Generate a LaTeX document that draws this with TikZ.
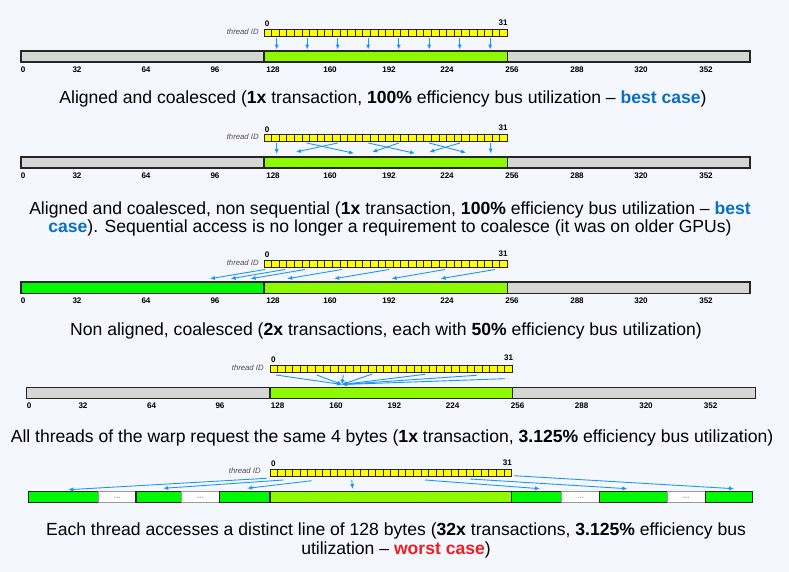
\documentclass[tikz,border=0pt]{standalone}
\usepackage{fontspec}
\setmainfont{Liberation Sans}
\usepackage{xcolor}
\usepackage{tikz}
\usetikzlibrary{arrows.meta}
\definecolor{MemGray}{HTML}{D6D6D6}
\definecolor{MemLime}{HTML}{8EFA00}
\definecolor{MemGreen}{HTML}{00F900}
\definecolor{ThreadYellow}{HTML}{FFFF00}
\definecolor{AccessBlue}{HTML}{1A95F2}
\definecolor{BestBlue}{HTML}{0A6FC2}
\definecolor{WorstRed}{HTML}{EE1C25}
\definecolor{PageBack}{HTML}{F4F7FE}

\begin{document}
\begin{tikzpicture}[x=0.02cm,y=-0.02cm,
  seg/.style={draw=black!85,line width=0.6pt},
  gapseg/.style={draw=black!40,line width=0.6pt,fill=white},
  cell/.style={draw=black!85,line width=0.55pt,fill=ThreadYellow},
  access/.style={AccessBlue,line width=0.5pt,-{Latex[length=2.8pt,width=2.4pt]}},
  tick/.style={font=\fontsize{4.6}{5}\selectfont\bfseries,inner sep=0pt},
  tid/.style={font=\fontsize{4.4}{5}\selectfont\itshape,text=black!70,anchor=east,inner sep=0pt},
  caption/.style={font=\fontsize{10}{10.6}\selectfont,align=center,inner sep=0pt}]
\path[use as bounding box] (0,0) rectangle (789,572);
\fill[PageBack] (0,0) rectangle (789,572);

% aligned and coalesced
\draw[seg,fill=MemGray] (21,51) rectangle (264,62);
\draw[seg,fill=MemLime] (264,51) rectangle (507.5,62);
\draw[seg,fill=MemGray] (507.5,51) rectangle (750,62);
\foreach \v/\x in {0/23,32/77,64/146,96/215,128/273,160/330,192/389,224/447,256/512,288/577,320/641,352/706}
  \node[tick] at (\x,70) {\v};
\foreach \i in {0,...,31}
  \draw[cell] ({264+7.61*\i},29.3) rectangle ++(7.61,7);
\node[tick] at (267,24) {0};
\node[tick] at (503,22.7) {31};
\node[tid] at (259,31.7) {thread ID};
\foreach \x in {276.7,307.2,337.7,368.2,398.7,429.2,459.7,490.2}
  \draw[access] (\x,37.5) -- (\x,49.5);
\node[caption] (capA) at (383,99) {Aligned and coalesced (\textbf{1x} transaction, \textbf{100\%} efficiency bus utilization – \textcolor{BestBlue}{\textbf{best case}})};

% aligned, non sequential
\draw[seg,fill=MemGray] (21,157) rectangle (264,168);
\draw[seg,fill=MemLime] (264,157) rectangle (507.5,168);
\draw[seg,fill=MemGray] (507.5,157) rectangle (750,168);
\foreach \v/\x in {0/23,32/77,64/146,96/215,128/273,160/330,192/389,224/447,256/512,288/577,320/641,352/706}
  \node[tick] at (\x,175.5) {\v};
\foreach \i in {0,...,31}
  \draw[cell] ({264+7.61*\i},134.7) rectangle ++(7.61,6.8);
\node[tick] at (267,129.3) {0};
\node[tick] at (503,127.7) {31};
\node[tid] at (259,136.7) {thread ID};
\draw[access] (276.7,142.5) -- (276.7,154);
\draw[access] (306.7,143) -- (354,153.3);
\draw[access] (337.7,143) -- (296,152);
\draw[access] (368.3,143) -- (415,153.3);
\draw[access] (399,143) -- (372.3,152);
\draw[access] (429.3,143) -- (466,152.7);
\draw[access] (460,143) -- (429.3,152);
\draw[access] (490.7,143) -- (490.7,153.5);
\node[caption] (capB) at (390,219) {Aligned and coalesced, non sequential (\textbf{1x} transaction, \textbf{100\%} efficiency bus utilization – \textcolor{BestBlue}{\textbf{best}}\\
\textcolor{BestBlue}{\textbf{case}}). Sequential access is no longer a requirement to coalesce (it was on older GPUs)};

% non aligned
\draw[seg,fill=MemGreen] (21,282) rectangle (264,293.3);
\draw[seg,fill=MemLime] (264,282) rectangle (507.5,293.3);
\draw[seg,fill=MemGray] (507.5,282) rectangle (750,293.3);
\foreach \v/\x in {0/23,32/77,64/146,96/215,128/273,160/330,192/389,224/447,256/512,288/577,320/641,352/706}
  \node[tick] at (\x,300.7) {\v};
\foreach \i in {0,...,31}
  \draw[cell] ({264+7.61*\i},260.3) rectangle ++(7.61,6.8);
\node[tick] at (267,254.3) {0};
\node[tick] at (503,253.3) {31};
\node[tid] at (259,262.3) {thread ID};
\foreach \s/\e in {265/210,285/230.7,305/250.7,341.7/287.3,389/334.3,445/391.7,495/440.7}
  \draw[access] (\s,269.5) -- (\e,278.7);
\node[caption] (capC) at (386,331) {Non aligned, coalesced (\textbf{2x} transactions, each with \textbf{50\%} efficiency bus utilization)};

% same word
\draw[seg,fill=MemGray] (26.7,387.3) rectangle (270,398.7);
\draw[seg,fill=MemLime] (270,387.3) rectangle (512.7,398.7);
\draw[seg,fill=MemGray] (512.7,387.3) rectangle (755.7,398.7);
\foreach \v/\x in {0/29,32/83,64/151.7,96/220,128/277.7,160/336,192/394.3,224/452.7,256/517.7,288/581.7,320/646,352/710.7}
  \node[tick] at (\x,405.3) {\v};
\foreach \i in {0,...,31}
  \draw[cell] ({270+7.58*\i},365.3) rectangle ++(7.58,7);
\node[tick] at (273.3,360) {0};
\node[tick] at (508.7,358) {31};
\node[tid] at (264,367.7) {thread ID};
\foreach \s/\t in {276/375,316.7/375,343.3/375,372.3/374,425/374.3,476.7/375.3,505/378.7}
  \draw[access] (\s,\t) -- (342,384.5);
\node[caption] (capD) at (392,438) {All threads of the warp request the same 4 bytes (\textbf{1x} transaction, \textbf{3.125\%} efficiency bus utilization)};

% distinct lines
\draw[seg,fill=MemGreen] (28.3,491.7) rectangle (98.3,502.7);
\draw[gapseg] (98.3,491.7) rectangle (136,502.7);
\draw[seg,fill=MemGreen] (136,491.7) rectangle (181.7,502.7);
\draw[gapseg] (181.7,491.7) rectangle (219.3,502.7);
\draw[seg,fill=MemGreen] (219.3,491.7) rectangle (270,502.7);
\draw[seg,fill=MemLime] (270,491.7) rectangle (511.7,502.7);
\draw[seg,fill=MemGreen] (511.7,491.7) rectangle (561.7,502.7);
\draw[gapseg] (561.7,491.7) rectangle (599.3,502.7);
\draw[seg,fill=MemGreen] (599.3,491.7) rectangle (667.3,502.7);
\draw[gapseg] (667.3,491.7) rectangle (705.3,502.7);
\draw[seg,fill=MemGreen] (705.3,491.7) rectangle (752.3,502.7);
\foreach \x in {117.2,200.5,580.5,686.3}
  \node[tick,text=black!35] at (\x,497.5) {...};
\foreach \i in {0,...,31}
  \draw[cell] ({270+7.55*\i},469.7) rectangle ++(7.55,6.5);
\node[tick] at (273.3,463.7) {0};
\node[tick] at (507.3,462.3) {31};
\node[tid] at (261,471) {thread ID};
\draw[access] (266.7,478.3) -- (68.3,489.7);
\draw[access] (283.3,480) -- (163.3,488.3);
\draw[access] (311.7,480.7) -- (247.3,488.3);
\draw[access] (351.7,480) -- (352.7,489);
\draw[access] (425,480) -- (540,488.7);
\draw[access] (470,479) -- (627.3,488.7);
\draw[access] (514,475.7) -- (734,488.7);
\node[caption] (capE) at (396,540.5) {Each thread accesses a distinct line of 128 bytes (\textbf{32x} transactions, \textbf{3.125\%} efficiency bus\\
utilization – \textcolor{WorstRed}{\textbf{worst case}})};
\end{tikzpicture}
\end{document}
